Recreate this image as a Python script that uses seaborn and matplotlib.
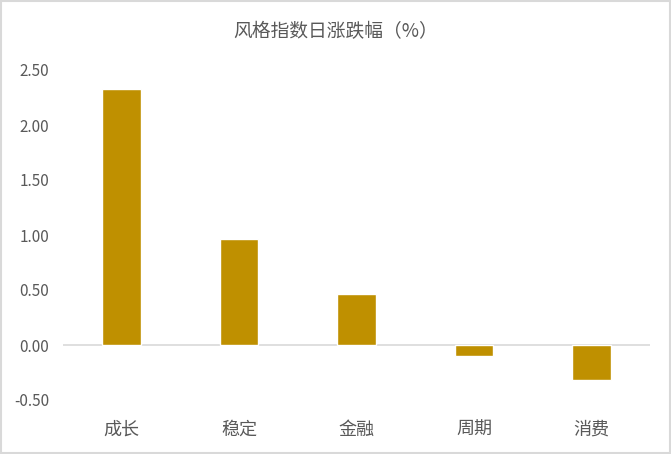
import pandas as pd
import matplotlib.pyplot as plt
import seaborn as sns

# data
categories = ["成长", "稳定", "金融", "周期", "消费"]
changes = [2.33, 0.96, 0.46, -0.10, -0.32]
y_ticks = [-0.5, 0.0, 0.5, 1.0, 1.5, 2.0, 2.5]
title = "风格指数日涨跌幅（%）"

BAR_COLOR = "#BF9000"
TEXT_COLOR = "#595959"
LINE_COLOR = "#D9D9D9"

sns.set_style("white")
plt.rcParams['font.family'] = ['Noto Sans CJK SC', 'DejaVu Sans']
plt.rcParams['axes.unicode_minus'] = False

df = pd.DataFrame({"style": categories, "change": changes})

fig = plt.figure(figsize=(6.71, 4.54), dpi=100)
ax = fig.add_axes([63 / 671, 54 / 454, 587 / 671, 330 / 454])

sns.barplot(data=df, x="style", y="change", color=BAR_COLOR, width=0.33,
            saturation=1, ax=ax)

ax.set_xlim(-0.5, len(categories) - 0.5)
ax.set_ylim(-0.5, 2.5)
ax.set_yticks(y_ticks)
ax.set_yticklabels([f"{v:.2f}" for v in y_ticks])
ax.axhline(0, color=LINE_COLOR, lw=1.2, zorder=0)

ax.set_xlabel("")
ax.set_ylabel("")
for s in ax.spines.values():
    s.set_visible(False)
ax.tick_params(axis="y", length=0, pad=10, labelsize=11, labelcolor=TEXT_COLOR)
ax.tick_params(axis="x", length=0, pad=15, labelsize=13, labelcolor=TEXT_COLOR)

fig.text(0.5, 1 - 32 / 454, title, ha="center", va="center",
         fontsize=13.5, color=TEXT_COLOR)

# figure border
fig.patches.append(plt.Rectangle((0.002, 0.003), 0.996, 0.994, transform=fig.transFigure,
                                 fill=False, edgecolor=LINE_COLOR, lw=1.5))

fig.savefig("out.png", dpi=100)
